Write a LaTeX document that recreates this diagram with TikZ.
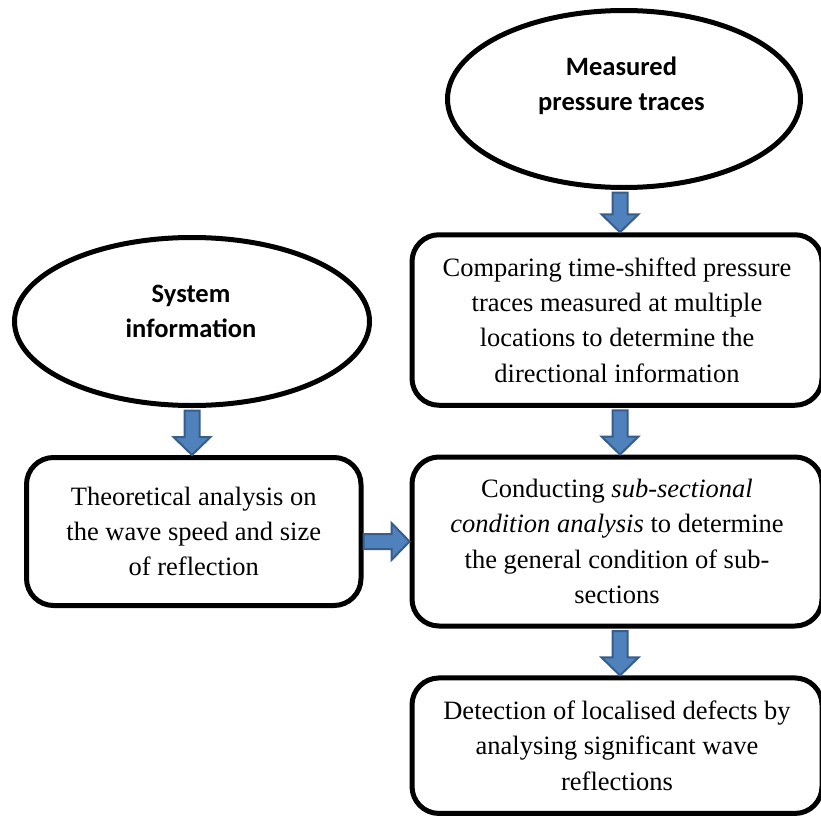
\documentclass[tikz,border=0pt]{standalone}
\usepackage{fontspec}
\setmainfont{Liberation Serif}
\newfontfamily\calib{Carlito}
\usetikzlibrary{shapes.geometric,calc}
\definecolor{arrowfill}{RGB}{79,129,189}
\definecolor{arrowline}{RGB}{56,93,138}
\newcommand{\dnblockarrow}[3]{%
  \filldraw[barrow] let \p0=(#1), \p1=(#2), \p2=(#3) in
    (\x0-7.5pt,\y1-2.5pt) -- (\x0+7.5pt,\y1-2.5pt) -- (\x0+7.5pt,\y2+18pt) --
    (\x0+18.5pt,\y2+18pt) -- (\x0,\y2) -- (\x0-18.5pt,\y2+18pt) --
    (\x0-7.5pt,\y2+18pt) -- cycle;}
\newcommand{\rtblockarrow}[2]{%
  \filldraw[barrow] let \p1=(#1), \p2=(#2) in
    (\x1,\y2-7.5pt) -- (\x2-18pt,\y2-7.5pt) -- (\x2-18pt,\y2-18.5pt) --
    (\x2,\y2) -- (\x2-18pt,\y2+18.5pt) -- (\x2-18pt,\y2+7.5pt) --
    (\x1,\y2+7.5pt) -- cycle;}
\begin{document}
\begin{tikzpicture}[x=1pt,y=-1pt,
  procbox/.style={draw, line width=5pt, rounded corners=27pt, inner sep=0pt,
    align=center, font=\fontsize{26.5pt}{35.3pt}\selectfont},
  srcell/.style={draw, ellipse, line width=5pt, inner sep=0pt},
  srctext/.style={align=center, inner sep=0pt,
    font=\calib\bfseries\fontsize{26.5pt}{35pt}\selectfont},
  barrow/.style={fill=arrowfill, draw=arrowline, line width=2pt, line join=miter}]
\useasboundingbox[fill=white] (0,0) rectangle (821,816);

% sources
\node[srcell, minimum width=353pt, minimum height=177pt] (e1) at (624,99) {};
\node[srctext] (e1t) at (621.5,86) {Measured\\pressure traces};
\node[srcell, minimum width=355pt, minimum height=168pt] (e2) at (192,321.5) {};
\node[srctext] (e2t) at (191,311) {System\\information};

% process boxes
\node[procbox, minimum width=410pt, minimum height=170.5pt] (b1) at (617,320)
  {Comparing time-shifted pressure\\traces measured at multiple\\locations to determine the\\directional information};
\node[procbox, minimum width=410pt, minimum height=169pt] (b2) at (617,541.5)
  {Conducting \textit{sub-sectional}\\\textit{condition analysis} to determine\\the general condition of sub-\\sections};
\node[procbox, minimum width=410pt, minimum height=135.5pt] (b3) at (617,745.7)
  {Detection of localised defects by\\analysing significant wave\\reflections};
\node[procbox, minimum width=334.5pt, minimum height=148pt] (b4) at (193.75,531.5)
  {Theoretical analysis on\\the wave speed and size\\of reflection};

% arrow columns
\coordinate (colR) at (620,0);
\coordinate (colL) at (192,0);

\dnblockarrow{colR}{e1.south}{b1.north}
\dnblockarrow{colR}{b1.south}{b2.north}
\dnblockarrow{colR}{b2.south}{b3.north}
\dnblockarrow{colL}{e2.south}{b4.north}
\rtblockarrow{b4.east}{b2.west}
\end{tikzpicture}
\end{document}
